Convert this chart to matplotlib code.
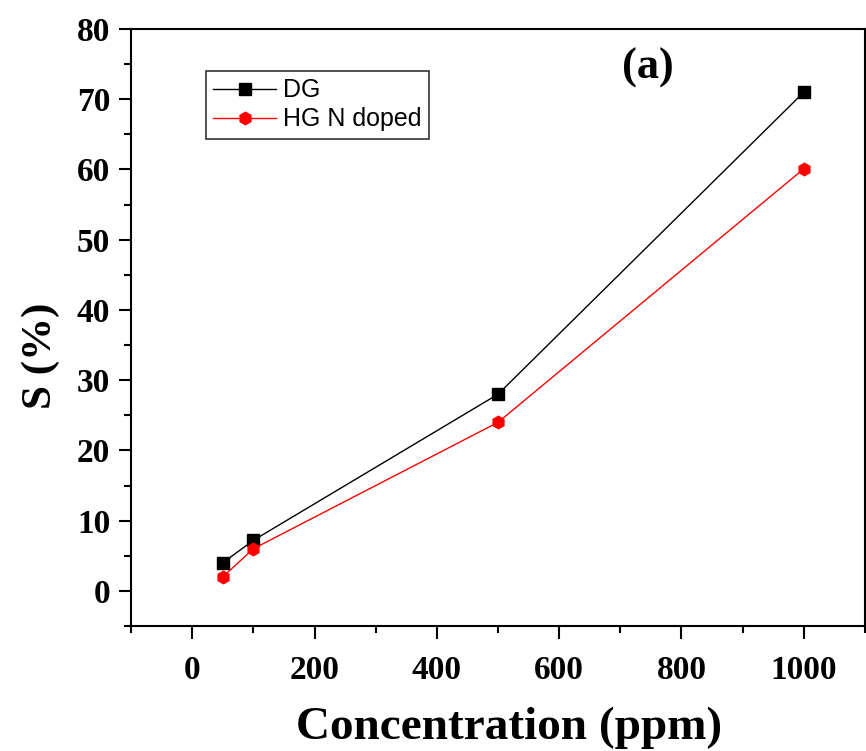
import matplotlib
matplotlib.use("Agg")
import matplotlib.pyplot as plt
from matplotlib.ticker import MultipleLocator

conc = [50, 100, 500, 1000]
dg = [4.0, 7.2, 28.0, 71.0]
hg = [2.0, 6.0, 24.0, 60.1]
series_labels = ["DG", "HG N doped"]

fig = plt.figure(figsize=(8.66, 7.51), dpi=100)
ax = fig.add_axes([0.1513, 0.1664, 0.8475, 0.795])

ax.plot(conc, dg, color="black", lw=1.0, marker="s", ms=9, label=series_labels[0])
ax.plot(conc, hg, color="red", lw=1.0, marker="h", ms=9, label=series_labels[1])

ax.set_xlim(-100, 1100)
ax.set_ylim(-5, 80)
ax.xaxis.set_major_locator(MultipleLocator(200))
ax.xaxis.set_minor_locator(MultipleLocator(100))
ax.yaxis.set_major_locator(MultipleLocator(10))
ax.yaxis.set_minor_locator(MultipleLocator(5))

for s in ax.spines.values():
    s.set_linewidth(1.5)
ax.tick_params(which="major", direction="out", length=9, width=1.5)
ax.tick_params(which="minor", direction="out", length=5, width=1.5)
for lab in ax.get_xticklabels() + ax.get_yticklabels():
    lab.set_fontfamily("Liberation Serif")
    lab.set_fontweight("bold")
    lab.set_fontsize(24)
ax.tick_params(axis="x", pad=12)
ax.tick_params(axis="y", pad=6)

ax.set_xlabel("Concentration (ppm)", fontfamily="Liberation Serif",
              fontweight="bold", fontsize=34)
ax.xaxis.set_label_coords(0.515, -0.135)
ax.set_ylabel("S (%)", fontfamily="Liberation Serif",
              fontweight="bold", fontsize=31)
ax.yaxis.set_label_coords(-0.097, 0.452)

ax.text(0.704, 0.935, "(a)", transform=ax.transAxes, fontfamily="Liberation Serif",
        fontweight="bold", fontsize=32, ha="center", va="center")

leg = ax.legend(loc="upper left", bbox_to_anchor=(0.102, 0.93),
                prop={"family": "Liberation Sans", "size": 18},
                frameon=True, fancybox=False, edgecolor="black",
                handlelength=2.5, borderpad=0.3, labelspacing=0.2,
                handletextpad=0.3, borderaxespad=0)
leg.get_frame().set_linewidth(1.2)

fig.savefig("out.png", dpi=100)
